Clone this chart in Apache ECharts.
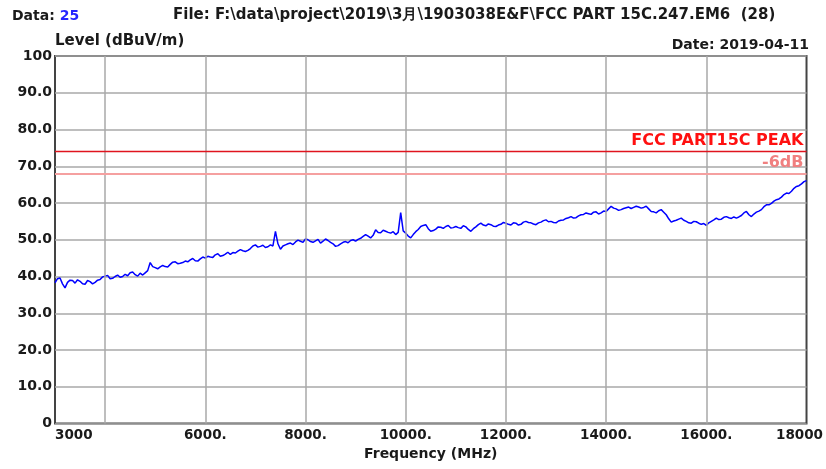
<!DOCTYPE html>
<html>
<head>
<meta charset="utf-8">
<script src="https://cdn.jsdelivr.net/npm/echarts@6/dist/echarts.min.js"></script>
<style>
html,body{margin:0;padding:0;background:#fff;}
#chart{width:826px;height:469px;}
</style>
</head>
<body>
<div id="chart"></div>
<script>
// ---- data ----
var freqStart = 3000;   // MHz
var freqStep = 50;      // MHz
var levels = [
  38.3, 39.4, 39.6, 38.0, 36.9, 38.4, 39.0, 38.9, 38.2, 39.1, 38.7, 38.0, 37.9, 38.9, 38.6, 38.0, 38.4, 39.0, 39.2, 39.9,
  40.1, 40.3, 39.4, 39.5, 40.0, 40.4, 39.8, 40.0, 40.6, 40.2, 41.0, 41.2, 40.5, 40.1, 40.9, 40.4, 41.0, 41.6, 43.8, 42.7,
  42.4, 42.1, 42.6, 43.0, 42.7, 42.6, 43.3, 43.9, 44.0, 43.5, 43.6, 43.8, 44.2, 44.0, 44.5, 44.9, 44.3, 44.2, 44.8, 45.3,
  45.0, 45.5, 45.3, 45.2, 45.9, 46.2, 45.5, 45.7, 46.1, 46.6, 46.0, 46.5, 46.4, 46.9, 47.3, 47.0, 46.8, 47.1, 47.6, 48.3,
  48.6, 48.0, 48.2, 48.5, 47.9, 48.1, 48.6, 48.3, 52.3, 48.9, 47.4, 48.3, 48.6, 48.9, 49.1, 48.7, 49.4, 49.9, 49.6, 49.3,
  50.2, 50.0, 49.5, 49.3, 49.7, 50.1, 49.1, 49.6, 50.2, 49.8, 49.3, 48.9, 48.2, 48.4, 48.9, 49.3, 49.5, 49.2, 49.8, 50.0,
  49.6, 50.1, 50.4, 50.9, 51.4, 51.0, 50.5, 51.2, 52.7, 52.0, 51.9, 52.6, 52.3, 52.0, 51.8, 52.2, 51.4, 52.0, 57.4, 52.4,
  51.8, 51.0, 50.5, 51.4, 52.2, 52.8, 53.6, 53.9, 54.1, 53.0, 52.3, 52.5, 52.9, 53.5, 53.4, 53.1, 53.6, 53.9, 53.2, 53.3,
  53.6, 53.3, 53.1, 53.8, 53.5, 52.8, 52.3, 53.0, 53.5, 54.1, 54.5, 54.0, 53.8, 54.3, 54.1, 53.7, 53.6, 54.0, 54.2, 54.7,
  54.5, 54.2, 54.0, 54.6, 54.5, 54.0, 54.2, 54.8, 55.0, 54.7, 54.6, 54.3, 54.1, 54.6, 54.8, 55.2, 55.4, 54.9, 55.0, 54.7,
  54.6, 55.1, 55.3, 55.4, 55.8, 56.0, 56.3, 55.9, 56.0, 56.5, 56.8, 56.9, 57.3, 57.1, 56.9, 57.5, 57.6, 57.0, 57.3, 57.8,
  57.7, 58.4, 59.1, 58.6, 58.4, 58.0, 58.2, 58.5, 58.7, 58.9, 58.5, 58.8, 59.1, 58.9, 58.6, 58.8, 59.1, 58.4, 57.7, 57.6,
  57.3, 57.9, 58.2, 57.5, 56.8, 55.7, 54.8, 55.1, 55.3, 55.6, 55.9, 55.3, 55.0, 54.6, 54.5, 55.0, 54.9, 54.5, 54.2, 54.4,
  53.9, 54.6, 55.0, 55.4, 55.9, 55.5, 55.6, 56.1, 56.3, 56.0, 55.8, 56.2, 55.9, 56.2, 56.6, 57.3, 57.7, 56.8, 56.3, 57.0,
  57.5, 57.8, 58.2, 59.0, 59.5, 59.5, 59.9, 60.5, 60.9, 61.1, 61.6, 62.3, 62.7, 62.6, 63.2, 64.0, 64.5, 64.7, 65.2, 65.8,
  66.1
];
var limitPeak = 74;
var limitMargin = 68;
var limitPeakName = 'FCC PART15C PEAK';
var limitMarginName = '-6dB';
var xTickValues = [3000, 6000, 8000, 10000, 12000, 14000, 16000, 18000];
var xTickLabels = ['3000', '6000.', '8000.', '10000.', '12000.', '14000.', '16000.', '18000'];
var xGridFreqs = [4000, 6000, 8000, 10000, 12000, 14000, 16000];
var yTickValues = [0, 10, 20, 30, 40, 50, 60, 70, 80, 90, 100];
var yTickLabels = ['0', '10.0', '20.0', '30.0', '40.0', '50.0', '60.0', '70.0', '80.0', '90.0', '100'];
var headerData = 'Data: ';
var headerDataNo = '25';
var headerFile = 'File: F:\\data\\project\\2019\\3月\\1903038E&F\\FCC PART 15C.247.EM6  (28)';
var headerDate = 'Date: 2019-04-11';
var yName = 'Level (dBuV/m)';
var xName = 'Frequency (MHz)';

// ---- build ----
var seriesData = levels.map(function (v, i) { return [freqStart + i * freqStep, v]; });
var FONT = '"DejaVu Sans", "Liberation Sans", Arial, sans-serif';

var chart = echarts.init(document.getElementById('chart'), null, {renderer: 'canvas'});
chart.setOption({
  animation: false,
  backgroundColor: '#ffffff',
  grid: {left: 55, right: 17, top: 56, bottom: 45.5, show: true, borderColor: '#444444', borderWidth: 2, backgroundColor: 'transparent'},
  graphic: [
    {type: 'text', left: 12, top: 9, style: {text: '{a|' + headerData + '}{b|' + headerDataNo + '}', rich: {
      a: {fontFamily: FONT, fontWeight: 'bold', fontSize: 14, fill: '#1a1a1a'},
      b: {fontFamily: FONT, fontWeight: 'bold', fontSize: 14, fill: '#2424ff'}
    }}},
    {type: 'text', left: 173, top: 8, style: {text: headerFile, fontFamily: FONT, fontWeight: 'bold', fontSize: 15, fill: '#1a1a1a'}},
    {type: 'text', right: 17, top: 38, style: {text: headerDate, fontFamily: FONT, fontWeight: 'bold', fontSize: 14, fill: '#1a1a1a'}}
  ],
  xAxis: {
    type: 'value', min: 3000, max: 18000, interval: 1000,
    name: xName, nameLocation: 'middle', nameGap: 31,
    nameTextStyle: {fontFamily: FONT, fontWeight: 'bold', fontSize: 14, color: '#1a1a1a', verticalAlign: 'middle'},
    axisLine: {show: false},
    axisTick: {show: false},
    splitLine: {show: false},
    axisLabel: {
      fontFamily: FONT, fontWeight: 'bold', fontSize: 13.5, color: '#1a1a1a', margin: 5,
      showMinLabel: true, showMaxLabel: true, alignMinLabel: 'left',
      formatter: function (v) {
        var k = xTickValues.indexOf(v);
        if (k < 0) return '';
        if (v === 18000) return '{r|' + xTickLabels[k] + '}';
        return xTickLabels[k];
      },
      rich: {r: {fontFamily: FONT, fontWeight: 'bold', fontSize: 13.5, color: '#1a1a1a', padding: [0, 14, 0, 0]}}
    }
  },
  yAxis: {
    type: 'value', min: 0, max: 100, interval: 10,
    name: yName, nameLocation: 'end', nameGap: -2,
    nameTextStyle: {fontFamily: FONT, fontWeight: 'bold', fontSize: 15, color: '#1a1a1a', align: 'left', verticalAlign: 'bottom'},
    axisLine: {show: false},
    axisTick: {show: false},
    splitLine: {show: true, lineStyle: {color: '#a8a8a8', width: 1.5}},
    axisLabel: {
      fontFamily: FONT, fontWeight: 'bold', fontSize: 14, color: '#1a1a1a', margin: 3,
      formatter: function (v) { var k = yTickValues.indexOf(v); return k < 0 ? '' : yTickLabels[k]; }
    }
  },
  series: [
    {
      type: 'line', data: [], silent: true,
      markLine: {
        silent: true, symbol: ['none', 'none'], animation: false,
        label: {show: false},
        lineStyle: {color: '#a8a8a8', width: 1.5, type: 'solid'},
        data: xGridFreqs.map(function (f) { return {xAxis: f}; })
      }
    },
    {
      type: 'line', data: [], silent: true,
      markLine: {
        silent: true, symbol: ['none', 'none'], animation: false,
        lineStyle: {color: '#f5a0a0', width: 2, type: 'solid', opacity: 1},
        label: {show: true, position: 'insideEndTop', distance: [3, 3], formatter: limitMarginName,
          fontFamily: FONT, fontWeight: 'bold', fontSize: 16, color: '#f08080'},
        data: [{yAxis: limitMargin}]
      }
    },
    {
      type: 'line', data: [], silent: true,
      markLine: {
        silent: true, symbol: ['none', 'none'], animation: false,
        lineStyle: {color: '#e0141e', width: 1.3, type: 'solid', opacity: 1},
        label: {show: true, position: 'insideEndTop', distance: [3, 3], formatter: limitPeakName,
          fontFamily: FONT, fontWeight: 'bold', fontSize: 16, color: '#ff1010'},
        data: [{yAxis: limitPeak}]
      }
    },
    {
      type: 'line', data: seriesData, showSymbol: false, symbol: 'none', silent: true,
      lineStyle: {color: '#0000ff', width: 1.5}
    }
  ]
});
</script>
</body>
</html>
